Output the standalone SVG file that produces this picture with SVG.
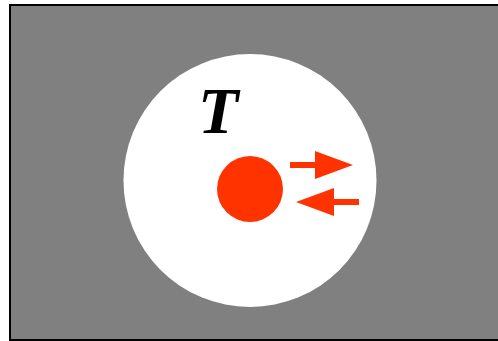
<svg xmlns="http://www.w3.org/2000/svg" width="498" height="341" viewBox="0 0 498 341">
<style>
.red{fill:#ff3300}
</style>
<rect width="498" height="341" fill="#ffffff"/>
<g id="background">
<rect x="10" y="5" width="492" height="335" fill="#808080" stroke="#000" stroke-width="2"/>
</g>
<g id="region">
<circle cx="250" cy="180.5" r="126.5" fill="#ffffff"/>
<text x="198" y="133" font-family="Liberation Serif, serif" font-weight="bold" font-style="italic" font-size="66" fill="#000">T</text>
</g>
<g id="particle">
<circle class="red" cx="250" cy="189" r="33"/>
</g>
<g id="connectors">
<polygon class="red" points="290,162 315,162 315,151 353,165 315,179 315,168 290,168"/>
<polygon class="red" points="359,199 334,199 334,188 296,202 334,216 334,205 359,205"/>
</g>
</svg>
